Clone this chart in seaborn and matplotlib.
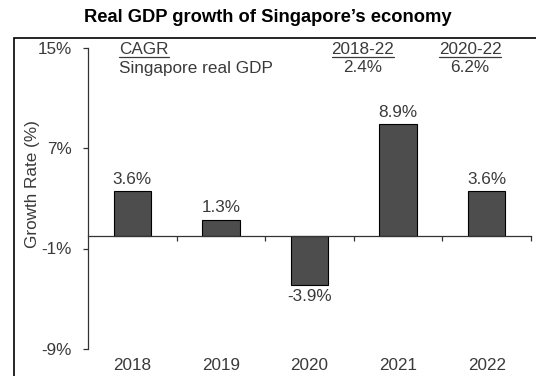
import matplotlib
matplotlib.use("Agg")
import matplotlib.pyplot as plt
import seaborn as sns
import pandas as pd
from matplotlib.patches import Rectangle
from matplotlib.transforms import blended_transform_factory

years = ["2018", "2019", "2020", "2021", "2022"]
growth = [3.6, 1.3, -3.9, 8.9, 3.6]
ytick_values = [15, 7, -1, -9]
cagr_periods = ["2018-22", "2020-22"]
cagr_values = [2.4, 6.2]

sns.set_theme(style="white")
plt.rcParams["font.family"] = ["Liberation Sans", "DejaVu Sans"]

text_color = "#3a3a3a"
bar_color = "#4d4d4d"
fs = 12.3

df = pd.DataFrame({"year": years, "growth": growth})

fig = plt.figure(figsize=(5.36, 3.76), dpi=100)
ax = fig.add_axes([88 / 536, (376 - 349) / 376, (531 - 88) / 536, (349 - 47.5) / 376])

sns.barplot(data=df, x="year", y="growth", color=bar_color, width=0.42,
            edgecolor="black", linewidth=0.8, saturation=1, ax=ax)

ax.set_ylim(-9, 15)
ax.set_xlim(-0.5, len(years) - 0.5)
ax.set_yticks(ytick_values)
ax.set_yticklabels([f"{v}%" for v in ytick_values], color=text_color, fontsize=fs)
ax.tick_params(axis="y", direction="out", length=3.6, width=0.9, color="#333333",
               pad=8, left=True)

# horizontal axis sits on the zero line with separator ticks between categories
for side in ["top", "right"]:
    ax.spines[side].set_visible(False)
ax.spines["left"].set_color("#333333")
ax.spines["left"].set_linewidth(0.9)
ax.spines["bottom"].set_position(("data", 0))
ax.spines["bottom"].set_color("#333333")
ax.spines["bottom"].set_linewidth(0.9)
ax.set_xticks([i + 0.5 for i in range(len(years))])
ax.set_xticklabels([])
ax.tick_params(axis="x", direction="out", length=3.6, width=0.9, color="#333333", bottom=True)

ax.set_xlabel("")
ax.set_ylabel("Growth Rate (%)", color=text_color, fontsize=fs)
ax.yaxis.set_label_coords(-0.109, 0.547)

# year labels under the plot area
trans = blended_transform_factory(ax.transData, ax.transAxes)
for i, yr in enumerate(years):
    ax.text(i, -0.056, yr, transform=trans, ha="center", va="center",
            fontsize=fs, color=text_color)

# value labels
for i, v in enumerate(growth):
    if v >= 0:
        ax.annotate(f"{v}%", (i, v), xytext=(0, 3), textcoords="offset points",
                    ha="center", va="bottom", fontsize=fs, color=text_color)
    else:
        ax.annotate(f"{v}%", (i, v), xytext=(0, -3), textcoords="offset points",
                    ha="center", va="top", fontsize=fs, color=text_color)

# CAGR table
ftrans = fig.transFigure
def fx(px):
    return px / 536
def fy(py):
    return 1 - py / 376

row1, row2 = 49.5, 68
fig.text(fx(119), fy(row1), "CAGR", ha="left", va="center", fontsize=fs,
         color=text_color)
fig.text(fx(119), fy(row2), "Singapore real GDP", ha="left", va="center",
         fontsize=fs, color=text_color)
for cx, period, val in zip([363, 470], cagr_periods, cagr_values):
    fig.text(fx(cx), fy(row1), period, ha="center", va="center", fontsize=fs,
             color=text_color)
    fig.text(fx(cx), fy(row2), f"{val}%", ha="center", va="center", fontsize=fs,
             color=text_color)

fig.canvas.draw()
renderer = fig.canvas.get_renderer()
for t in list(fig.texts):
    if t.get_text() in ["CAGR"] + cagr_periods:
        bb = t.get_window_extent(renderer).transformed(fig.transFigure.inverted())
        fig.add_artist(plt.Line2D([bb.x0, bb.x1], [fy(57), fy(57)],
                                  transform=fig.transFigure, color=text_color,
                                  linewidth=0.9))

fig.suptitle("Real GDP growth of Singapore\u2019s economy", x=0.5, y=fy(18),
             va="center", fontsize=13.2, fontweight="bold", color="black")

# frame around the chart body
fig.add_artist(Rectangle((fx(14), -0.2), 1.2, fy(37.5) + 0.2, transform=ftrans,
                         fill=False, edgecolor="black", linewidth=1.2))

fig.savefig("out.png", dpi=100)
